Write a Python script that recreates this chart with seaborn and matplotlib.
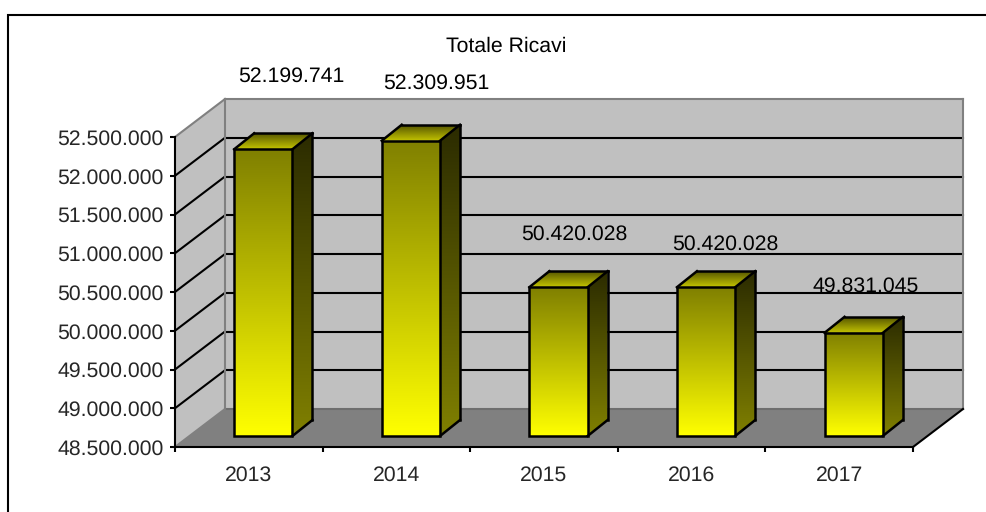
import numpy as np
import pandas as pd
import seaborn as sns
import matplotlib.pyplot as plt
from matplotlib.lines import Line2D
from matplotlib.patches import Polygon, Rectangle
from matplotlib.ticker import FuncFormatter
from matplotlib.transforms import Affine2D, IdentityTransform
from matplotlib.colors import to_rgb

years = ['2013', '2014', '2015', '2016', '2017']
ricavi = [52199741, 52309951, 50420028, 50420028, 49831045]
y_ticks = [48500000, 49000000, 49500000, 50000000, 50500000,
           51000000, 51500000, 52000000, 52500000]
title = 'Totale Ricavi'

# where each value label sits relative to its bar, in pixels
label_nudge = [(42.2, 83.5), (39.6, 68.5), (30, 64), (33.7, 54), (26.3, 57)]

sns.set_style('white')
plt.rcParams['font.family'] = ['Liberation Sans', 'DejaVu Sans']
plt.rcParams['text.hinting'] = 'none'
FS = 15.3
LW = 1.5
BAR_LW = 1.8

W, H = 987, 512
DEPTH = np.array([50, 38])       # floor depth in pixels
BAR_SHIFT = np.array([14.5, 11])  # bars stand a bit back from the front edge
BAR_DEPTH = np.array([20, 16])
ident = IdentityTransform()

fig = plt.figure(figsize=(W / 100, H / 100), dpi=100, facecolor='white')
ax = fig.add_axes([175 / W, (H - 447) / H, 738 / W, 310 / H])
ax.patch.set_visible(False)

df = pd.DataFrame({'anno': years, 'ricavi': ricavi})
sns.barplot(data=df, x='anno', y='ricavi', width=0.395, fill=True,
            facecolor='none', edgecolor='black', linewidth=BAR_LW, ax=ax, zorder=10)
ax.set_xlim(-0.5, len(years) - 0.5)
ax.set_ylim(y_ticks[0], y_ticks[-1])
ax.set_autoscale_on(False)
ax.set_xlabel('')
ax.set_ylabel('')


def px(x, y):
    return ax.transData.transform((x, y))


def poly(verts, color, z):
    ax.add_patch(Polygon(verts, closed=True, facecolor=color, edgecolor='none', linewidth=0,
                         transform=ident, clip_on=False, zorder=z))


def line(a, b, color, z, lw=LW):
    ax.add_line(Line2D([a[0], b[0]], [a[1], b[1]], color=color, lw=lw, transform=ident,
                       clip_on=False, zorder=z, solid_capstyle='projecting'))


def grad_face(verts, top, bottom, z):
    verts = np.array(verts)
    n = 128
    t = np.linspace(0, 1, n)[:, None]
    img = (1 - t) * np.array(to_rgb(top)) + t * np.array(to_rgb(bottom))
    x0, y0 = verts.min(axis=0)
    x1, y1 = verts.max(axis=0)
    im = ax.imshow(img[:, None, :], extent=(x0, x1, y0, y1), origin='upper', aspect='auto',
                   transform=ident, zorder=z, interpolation='bilinear')
    im.set_clip_box(fig.bbox)
    im.set_clip_path(Polygon(verts, closed=True, transform=ident))


# walls and floor
x_l, x_r = ax.get_xlim()
y_b, y_t = ax.get_ylim()
fbl, ftl, fbr = px(x_l, y_b), px(x_l, y_t), px(x_r, y_b)
poly([fbl, ftl, ftl + DEPTH, fbl + DEPTH], '#c0c0c0', 1)
poly([fbl + DEPTH, ftl + DEPTH, px(x_r, y_t) + DEPTH, fbr + DEPTH], '#c0c0c0', 1)
poly([fbl, fbr, fbr + DEPTH, fbl + DEPTH], '#808080', 3)

for v in y_ticks[1:-1]:
    p = px(x_l, v)
    line(p, p + DEPTH, 'black', 2)
    line(p + DEPTH, px(x_r, v) + DEPTH, 'black', 2)

line(ftl, ftl + DEPTH, '#808080', 2)
line(ftl + DEPTH, px(x_r, y_t) + DEPTH, '#808080', 2)
line(fbl + DEPTH, ftl + DEPTH, '#808080', 2)
line(px(x_r, y_t) + DEPTH, fbr + DEPTH, '#808080', 2)
line(fbl + DEPTH, fbr + DEPTH, '#6e6e6e', 4)
line(fbl, fbl + DEPTH, '#808080', 4)
line(fbr, fbr + DEPTH, 'black', 4)

# bars: seaborn draws the outlined front, the faces are added behind the outlines
shift = Affine2D().translate(*BAR_SHIFT)
for i, bar in enumerate(ax.patches[:len(years)]):
    # the value axis does not start at zero, bars stand on the floor
    bar.set_y(y_b)
    bar.set_height(ricavi[i] - y_b)
    x0, x1 = bar.get_x(), bar.get_x() + bar.get_width()
    bl = px(x0, y_b) + BAR_SHIFT
    br = px(x1, y_b) + BAR_SHIFT
    tl = px(x0, ricavi[i]) + BAR_SHIFT
    tr = px(x1, ricavi[i]) + BAR_SHIFT
    z = 5 + i
    grad_face([bl, br, tr, tl], '#808000', '#ffff00', z)
    grad_face([br, br + BAR_DEPTH, tr + BAR_DEPTH, tr], '#2b2b00', '#808000', z)
    grad_face([tl, tr, tr + BAR_DEPTH, tl + BAR_DEPTH], '#555500', '#c4c400', z)
    bar.set_transform(ax.transData + shift)
    bar.set_clip_on(False)
    bar.set_zorder(z + 0.5)
    for a, b in [(tl, tl + BAR_DEPTH), (tl + BAR_DEPTH, tr + BAR_DEPTH), (tr, tr + BAR_DEPTH),
                 (tr + BAR_DEPTH, br + BAR_DEPTH), (br, br + BAR_DEPTH)]:
        line(a, b, 'black', z + 0.5, lw=BAR_LW)

    dx, dy = label_nudge[i]
    ax.text(i, ricavi[i], f'{ricavi[i]:,}'.replace(',', '.'), ha='center', va='center',
            fontsize=FS, color='black', clip_on=False, zorder=20,
            transform=ax.transData + Affine2D().translate(dx, dy))

# axes
sns.despine(ax=ax, top=True, right=True)
for s in ['left', 'bottom']:
    ax.spines[s].set_color('black')
    ax.spines[s].set_linewidth(LW)
    ax.spines[s].set_zorder(4)
ax.set_yticks(y_ticks)
ax.yaxis.set_major_formatter(FuncFormatter(lambda v, _: f'{int(v):,}'.replace(',', '.')))
ax.set_xticks(range(len(years)))
ax.set_xticklabels(years)
ax.set_xticks(np.arange(len(years) + 1) - 0.5, minor=True)
ax.tick_params(axis='y', left=True, length=3.8, width=LW, pad=4.5, labelsize=FS, color='black')
ax.tick_params(axis='x', which='major', bottom=False, pad=10, labelsize=FS)
ax.tick_params(axis='x', which='minor', bottom=True, length=3.8, width=LW, color='black')

fig.text(506.7 / W, 1 - 46 / H, title, ha='center', va='center', fontsize=FS, color='black')

# outer frame, only the top and left sides are inside the picture
fig.add_artist(Rectangle((8 / W, -0.1), 1.1, 1.1 - 14.5 / H, fill=False,
                         edgecolor='black', linewidth=LW, transform=fig.transFigure))

fig.savefig('out.png', dpi=100)
